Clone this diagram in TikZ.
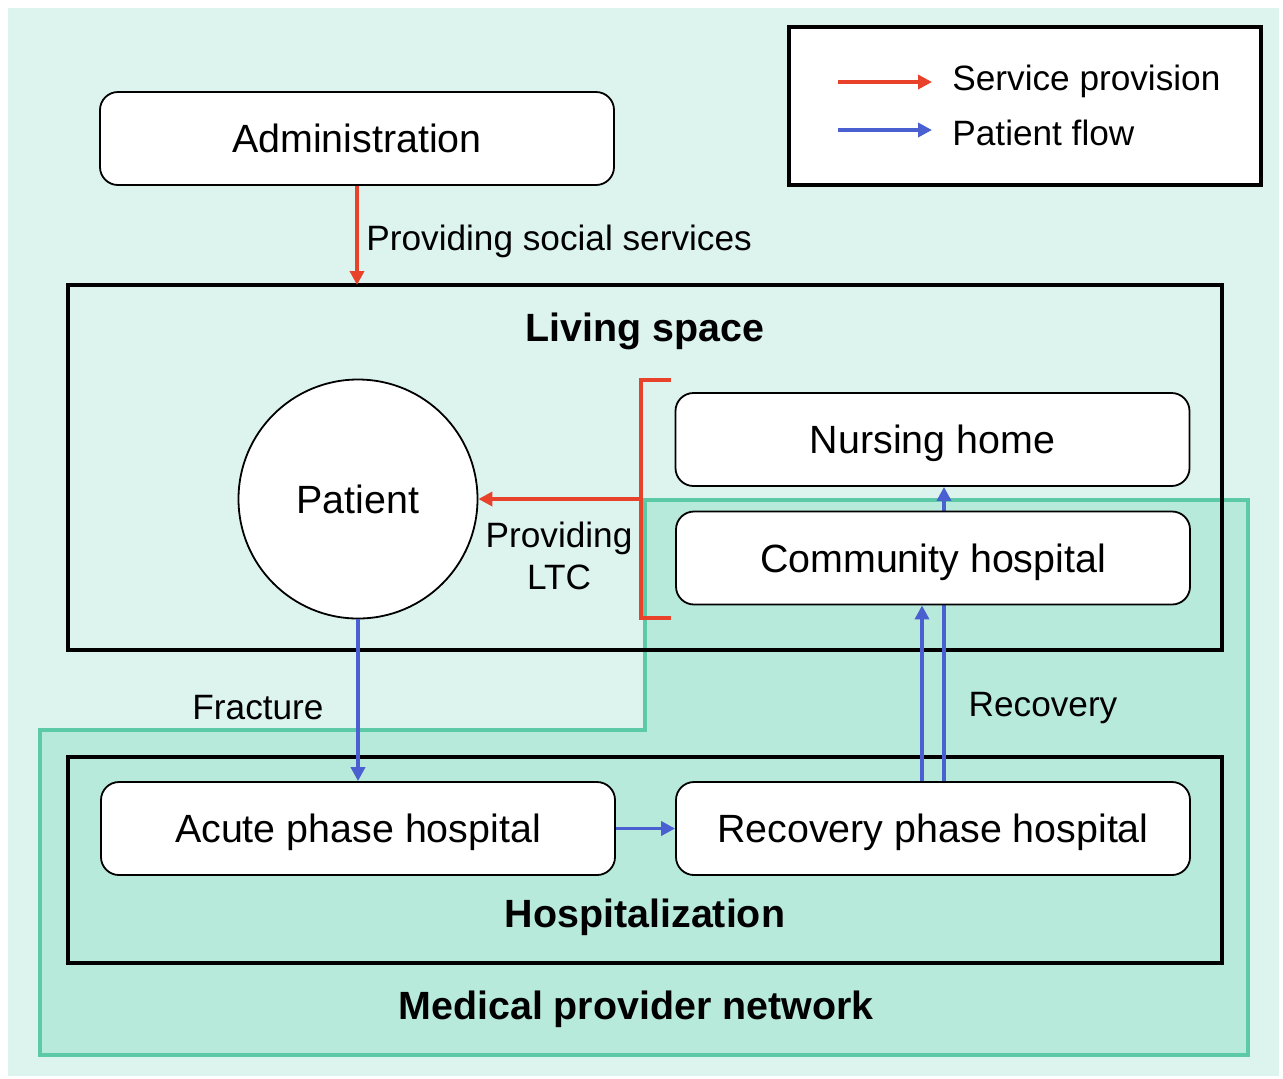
\documentclass[tikz,border=0pt]{standalone}
\usepackage{fontspec}
\setmainfont{Liberation Sans}
\usetikzlibrary{arrows.meta,positioning}
\definecolor{bgmint}{HTML}{DCF3EE}
\definecolor{netfill}{HTML}{B8EADB}
\definecolor{netline}{HTML}{5CCAA6}
\definecolor{svcred}{HTML}{E8432A}
\definecolor{flowblue}{HTML}{4A5FD0}
\pgfdeclarelayer{bg}
\pgfdeclarelayer{mid}
\pgfsetlayers{bg,mid,main}
\tikzset{
  rbox/.style={draw=black, line width=0.9pt, rounded corners=9pt, fill=white,
    minimum width=257pt, minimum height=46.5pt, inner sep=0pt,
    text height=14pt, text depth=0pt,
    font=\fontsize{19.7pt}{23pt}\selectfont},
  lbl/.style={font=\fontsize{17.6pt}{21pt}\selectfont, inner sep=0pt},
  ttl/.style={font=\fontsize{19.7pt}{23pt}\selectfont\bfseries, inner sep=0pt},
  frame/.style={draw=black, line width=2.2pt},
  svc/.style={draw=svcred, line width=1.8pt, -{Triangle[length=7pt,width=7pt]}},
  flow/.style={draw=flowblue, line width=1.8pt, -{Triangle[length=7pt,width=7pt]}},
}
\begin{document}
\begin{tikzpicture}[x=0.5pt,y=-0.5pt]
\useasboundingbox (0,0) rectangle (1283,1078);
\begin{pgfonlayer}{bg}
  \fill[bgmint] (8,8) rectangle (1279,1076);
  \draw[netline, fill=netfill, line width=2.3pt] (40,730) -- (645,730) -- (645,500) -- (1248,500) -- (1248,1055) -- (40,1055) -- cycle;
  \draw[frame] (68,285) rectangle (1222,650);
  \draw[frame] (68,757) rectangle (1222,963);
  \draw[frame, fill=white] (789,27) rectangle (1261,185);
\end{pgfonlayer}

% nodes
\node[rbox] (admin) at (357,138.5) {Administration};
\node[rbox] (nursing) at (932.5,439.5) {Nursing home};
\node[rbox] (community) at (933,558) {Community hospital};
\node[rbox] (acute) at (358,828.5) {Acute phase hospital};
\node[rbox] (recovery) at (933,828.5) {Recovery phase hospital};
\node[circle, draw=black, line width=0.9pt, fill=white, minimum size=119.5pt, inner sep=0pt,
      text height=14pt, text depth=0pt,
      font=\fontsize{19.7pt}{23pt}\selectfont] (patient) at (358,499) {Patient};

% titles
\node[ttl] (living) at (645,331) {Living space};
\node[ttl] (hosp) at (645,917) {Hospitalization};
\node[ttl] (mpn) at (636,1009) {Medical provider network};

% labels
\node[lbl, anchor=west] (pss) at (366,241) {Providing social services};
\node[lbl, align=center] (ltc) at (559,556) {Providing\\LTC};
\node[lbl] (fracture) at (258,708) {Fracture};
\node[lbl] (recov) at (1043,708) {Recovery};

% legend
\coordinate (l1a) at (838,82); \coordinate (l1b) at (932,82);
\coordinate (l2a) at (838,130); \coordinate (l2b) at (932,130);
\draw[svc] (l1a) -- (l1b);
\draw[flow] (l2a) -- (l2b);
\node[lbl, anchor=west] (leg1) at (952,81) {Service provision};
\node[lbl, anchor=west] (leg2) at (952,133) {Patient flow};

% service arrows
\draw[svc] (admin.south) -- (admin.south |- 285,285);
\coordinate (brtop) at (671,380);
\coordinate (brbot) at (671,618);
\coordinate (brmid) at (641,499);
\draw[svcred, line width=1.8pt] (brtop) -- (641,380) -- (641,618) -- (brbot);
\draw[svc] (brmid) -- (patient.east);

% patient flow
\draw[flow] (patient.south) -- (acute.north);
\draw[flow] (acute.east) -- (recovery.west);
\draw[flow] ([xshift=-5.5pt]recovery.north) -- ([xshift=-5.5pt]recovery.north |- community.south);
\begin{pgfonlayer}{mid}
\draw[flow] ([xshift=5.5pt]recovery.north) -- ([xshift=5.5pt]recovery.north |- nursing.south);
\end{pgfonlayer}
\end{tikzpicture}
\end{document}
